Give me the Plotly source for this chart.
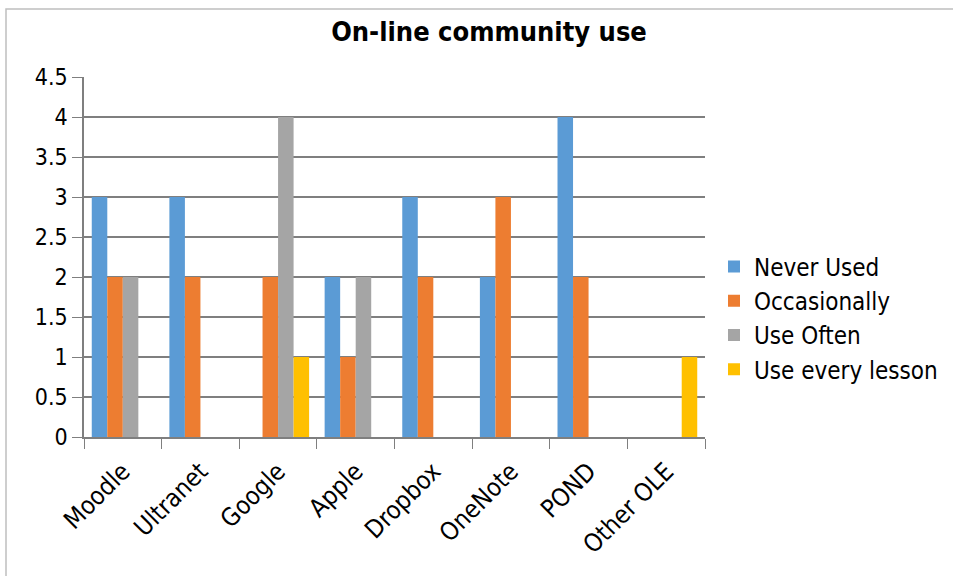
import plotly.graph_objects as go

categories = ["Moodle", "Ultranet", "Google", "Apple", "Dropbox", "OneNote", "POND", "Other OLE"]
never_used = [3, 3, 0, 2, 3, 2, 4, 0]
occasionally = [2, 2, 2, 1, 2, 3, 2, 0]
use_often = [2, 0, 4, 2, 0, 0, 0, 0]
every_lesson = [0, 0, 1, 0, 0, 0, 0, 1]
series_names = ["Never Used", "Occasionally", "Use Often", "Use every lesson"]
colors = ["#5B9BD5", "#ED7D31", "#A5A5A5", "#FFC000"]
y_ticks = [0, 0.5, 1, 1.5, 2, 2.5, 3, 3.5, 4, 4.5]
y_labels = ["0", "0.5", "1", "1.5", "2", "2.5", "3", "3.5", "4", "4.5"]

FONT = "DejaVu Sans Condensed, Liberation Sans Narrow, Open Sans, sans-serif"

fig = go.Figure()
for name, vals, c in zip(series_names, [never_used, occasionally, use_often, every_lesson], colors):
    fig.add_trace(go.Bar(x=categories, y=vals, name=name, marker=dict(color=c, line=dict(width=0))))

W, H = 953, 576
L, R, T, B = 84, 248, 77, 139
pw, ph = W - L - R, H - T - B

def px(x):
    return (x - L) / pw

def py(y):
    return (H - B - y) / ph

fig.update_layout(
    width=W, height=H,
    margin=dict(l=L, r=R, t=T, b=B, autoexpand=False),
    paper_bgcolor="white", plot_bgcolor="white",
    barmode="group", bargap=0.2, bargroupgap=0,
    font=dict(family=FONT, color="#000000"),
    title=dict(text="<b>On-line community use</b>", x=489 / W, xanchor="center",
               y=1 - 32 / H, yanchor="middle", font=dict(size=27, family=FONT)),
    legend=dict(x=px(714), y=py(318), xanchor="left", yanchor="middle",
                font=dict(size=24, family=FONT), itemwidth=30, tracegroupgap=0,
                bgcolor="rgba(0,0,0,0)"),
    xaxis=dict(showline=True, linecolor="#7f7f7f", linewidth=1.5, ticks="outside",
               tickcolor="#7f7f7f", ticklen=10, tickson="boundaries", tickangle=-45,
               ticklabelstandoff=8, automargin=False,
               tickfont=dict(size=25, family=FONT), showgrid=False),
    yaxis=dict(range=[0, 4.5], tickvals=y_ticks, ticktext=y_labels, showline=True,
               linecolor="#7f7f7f", linewidth=1.5, ticks="outside", tickcolor="#7f7f7f",
               ticklen=10, showgrid=True, gridcolor="#7f7f7f", gridwidth=1.5,
               automargin=False,
               tickfont=dict(size=23, family=FONT), zeroline=False),
    shapes=[dict(type="rect", xref="paper", yref="paper",
                 x0=px(6), x1=px(W + 2), y0=py(H + 2), y1=py(9),
                 line=dict(color="#bfbfbf", width=1.5), fillcolor="rgba(0,0,0,0)", layer="below")],
)

fig.write_html("out.html")
